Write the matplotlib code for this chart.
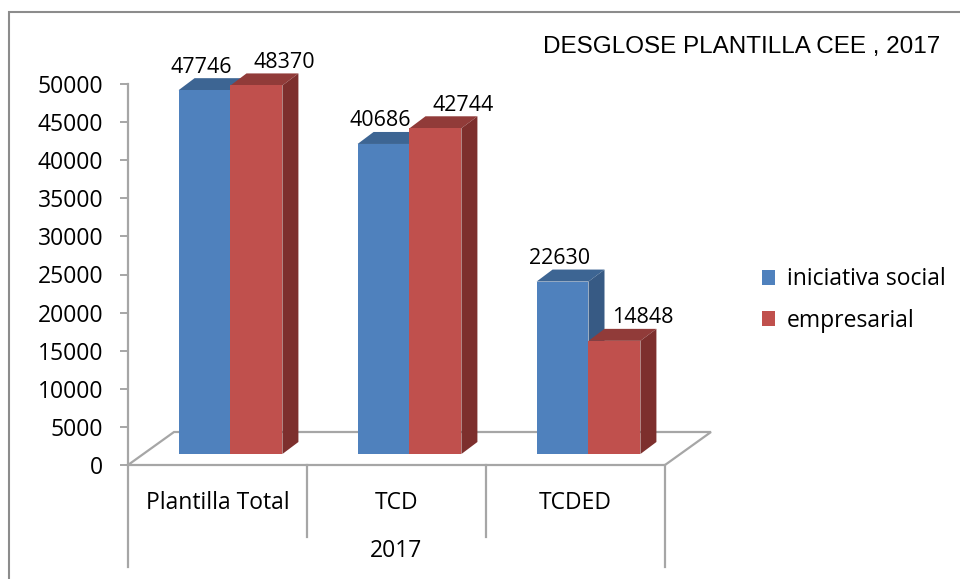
import matplotlib
matplotlib.use("Agg")
import matplotlib.pyplot as plt
from matplotlib.patches import Polygon, Rectangle, Patch
from matplotlib.transforms import ScaledTranslation

plt.rcParams['font.family'] = ['Open Sans', 'DejaVu Sans']

categories = ['Plantilla Total', 'TCD', 'TCDED']
group_label = '2017'
series_names = ['iniciativa social', 'empresarial']
iniciativa_social = [47746, 40686, 22630]
empresarial = [48370, 42744, 14848]
y_ticks = list(range(0, 50001, 5000))

front_colors = ['#4F81BD', '#C0504D']
top_colors = ['#3D6593', '#913B39']
side_colors = ['#375A84', '#7D2F2D']
grid_gray = '#A6A6A6'

W, H = 960, 579
fig = plt.figure(figsize=(W / 100, H / 100), dpi=100)
ax = fig.add_axes([128 / W, 1 - 465 / H, 537 / W, 381 / H])
ax.set_xlim(-0.5, 2.5)
ax.set_ylim(0, 50000)

# pixel -> data unit helpers
px_x = 3 / 537
px_y = 50000 / 381

# floor (3D base)
floor_dx, floor_dy = 46 * px_x, 33 * px_y
floor = Polygon([(-0.5, 0), (2.5, 0), (2.5 + floor_dx, floor_dy), (-0.5 + floor_dx, floor_dy)],
                closed=True, facecolor='white', edgecolor=grid_gray, lw=1.6, zorder=1, clip_on=False)
ax.add_patch(floor)

# bars with fake depth
bar_w = 0.29
depth_dx, depth_dy = 16 * px_x, 12 * px_y
shift = ax.transData + ScaledTranslation(13 / 100, 11 / 100, fig.dpi_scale_trans)

for s, values in enumerate([iniciativa_social, empresarial]):
    for i, v in enumerate(values):
        x0 = i - bar_w + s * bar_w
        x1 = x0 + bar_w
        z = 3 + i * 0.1 + s * 0.05
        ax.add_patch(Rectangle((x0, 0), bar_w, v, facecolor=front_colors[s], clip_on=False,
                               edgecolor='none', transform=shift, zorder=z + 0.02))
        ax.add_patch(Polygon([(x0, v), (x1, v), (x1 + depth_dx, v + depth_dy), (x0 + depth_dx, v + depth_dy)],
                             facecolor=top_colors[s], edgecolor='none', transform=shift, zorder=z,
                             clip_on=False))
        ax.add_patch(Polygon([(x1, 0), (x1 + depth_dx, depth_dy), (x1 + depth_dx, v + depth_dy), (x1, v)],
                             facecolor=side_colors[s], edgecolor='none', transform=shift, zorder=z,
                             clip_on=False))
        label_dx = -3 if s == 0 else 28
        ax.annotate(str(v), xy=((x0 + x1) / 2, v), xycoords=shift,
                    xytext=(label_dx * 0.72, 23 * 0.72), textcoords='offset points',
                    ha='center', va='center', fontsize=15.5, color='black', zorder=10)

# axes styling
for side in ['top', 'right', 'bottom']:
    ax.spines[side].set_visible(False)
ax.spines['left'].set_color(grid_gray)
ax.spines['left'].set_linewidth(1.6)
ax.set_yticks(y_ticks)
ax.set_yticklabels([str(t) for t in y_ticks], fontsize=16.5)
ax.tick_params(axis='y', length=8 * 0.72, width=1.4, color=grid_gray, pad=12)
ax.set_xticks([])

# category axis with separators
xt = ax.get_xaxis_transform()
for xs, depth in [(-0.5, 0.268), (0.5, 0.19), (1.5, 0.19), (2.5, 0.268)]:
    ax.plot([xs, xs], [0, -depth], transform=xt, color=grid_gray, lw=1.6, clip_on=False)
for i, c in enumerate(categories):
    ax.text(i, -0.1, c, transform=xt, ha='center', va='center', fontsize=16.5)
ax.text(1, -0.227, group_label, transform=xt, ha='center', va='center', fontsize=16.5)

# title
fig.text(742 / W, 1 - 47 / H, 'DESGLOSE PLANTILLA CEE , 2017', ha='center', va='center',
         fontsize=17.5, family=['Liberation Sans', 'DejaVu Sans'])

# legend
handles = [Patch(facecolor=c, edgecolor='none') for c in front_colors]
fig.legend(handles, series_names, loc='center left', bbox_to_anchor=(741 / W, 1 - 300 / H),
           frameon=False, fontsize=16.5, handlelength=0.6, handleheight=0.6,
           handletextpad=0.5, labelspacing=0.75)

# chart border
fig.patches.append(Rectangle((9 / W, -0.1), 1.2, 1 - 12 / H + 0.1, transform=fig.transFigure,
                             fill=False, edgecolor='#8C8C8C', lw=1.5))

fig.savefig('out.png', dpi=100)
